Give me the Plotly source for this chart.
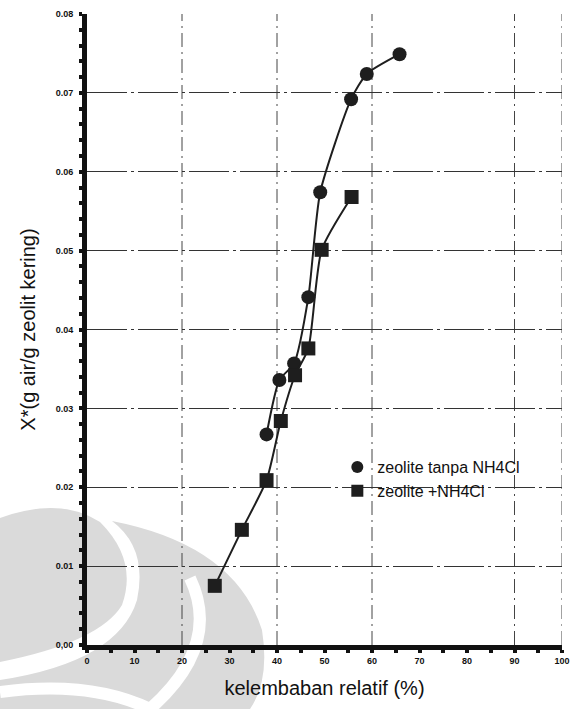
import plotly.graph_objects as go

# Data
rh_circle = [37.8, 40.5, 43.6, 46.6, 49.1, 55.6, 58.9, 65.8]
x_circle = [0.0267, 0.0336, 0.0357, 0.0441, 0.0574, 0.0692, 0.0724, 0.0749]
rh_square = [26.9, 32.6, 37.8, 40.8, 43.8, 46.6, 49.4, 55.7]
x_square = [0.0075, 0.0146, 0.0209, 0.0284, 0.0342, 0.0376, 0.0501, 0.0568]
x_ticks = [0, 10, 20, 30, 40, 50, 60, 70, 80, 90, 100]
y_ticks = [0.00, 0.01, 0.02, 0.03, 0.04, 0.05, 0.06, 0.07, 0.08]
y_tick_text = ["0,00", "0.01", "0.02", "0.03", "0.04", "0.05", "0.06", "0.07", "0.08"]
v_grid = [20, 40, 60, 90, 100]
name_circle = "zeolite tanpa NH4Cl"
name_square = "zeolite +NH4Cl"

INK = "#1e1e1e"
L, R, T, B = 87, 14, 14, 64
W, H = 576, 709
PW, PH = W - L - R, H - T - B


def P(px, py):
    xp, yp = (px - L) / PW, (H - B - py) / PH
    return f"{xp:.4f},{yp:.4f}"


fig = go.Figure()

# decorative watermark swooshes in the background
grayA = f"M{P(0,518)} Q{P(60,496)} {P(100,522)} Q{P(138,560)} {P(122,605)} Q{P(100,642)} {P(0,662)} Z"
grayB = (f"M{P(112,521)} Q{P(235,545)} {P(262,630)} Q{P(270,680)} {P(250,709)} L{P(0,709)} L{P(0,680)} "
         f"Q{P(118,662)} {P(137,600)} Q{P(148,548)} {P(112,521)} Z")
white1 = f"M{P(190,578)} Q{P(222,645)} {P(150,709)}"
white2 = f"M{P(0,692)} Q{P(90,680)} {P(150,709)}"
for pth in (grayA, grayB):
    fig.add_shape(type="path", path=pth, xref="paper", yref="paper",
                  fillcolor="#dadada", line=dict(width=0), layer="below")
for pth in (white1, white2):
    fig.add_shape(type="path", path=pth, xref="paper", yref="paper",
                  line=dict(color="white", width=12), layer="below")

for xv in v_grid:
    fig.add_shape(type="line", x0=xv, x1=xv, y0=0, y1=0.08, xref="x", yref="y",
                  line=dict(color="#444", width=1, dash="14px,5px,2px,5px"), layer="below")

fig.add_trace(go.Scatter(x=rh_circle, y=x_circle, mode="lines+markers",
                         line=dict(color=INK, width=2, shape="spline", smoothing=0.6),
                         marker=dict(symbol="circle", size=14, color=INK),
                         showlegend=False))
fig.add_trace(go.Scatter(x=rh_square, y=x_square, mode="lines+markers",
                         line=dict(color=INK, width=2, shape="spline", smoothing=0.6),
                         marker=dict(symbol="square", size=14, color=INK),
                         showlegend=False))
fig.add_trace(go.Scatter(x=[None], y=[None], mode="markers", name=name_circle,
                         marker=dict(symbol="circle", size=13, color=INK)))
fig.add_trace(go.Scatter(x=[None], y=[None], mode="markers", name=name_square,
                         marker=dict(symbol="square", size=13, color=INK)))

tickfont = dict(family="Liberation Sans, Arial", size=9, color="#111", weight="bold")
titlefont = dict(family="Liberation Sans, Arial", size=20, color="#111")
fig.update_layout(
    width=W, height=H,
    margin=dict(l=L, r=R, t=T, b=B),
    paper_bgcolor="white", plot_bgcolor="white",
    showlegend=True,
    legend=dict(x=0.527, y=0.309, xanchor="left", yanchor="top",
                bgcolor="rgba(0,0,0,0)", itemsizing="constant",
                font=dict(family="Liberation Sans, Arial", size=16, color="#111"),
                itemwidth=30),
    xaxis=dict(range=[0, 100], tickvals=x_ticks, ticktext=[str(v) for v in x_ticks],
               showgrid=False, zeroline=False, automargin=False,
               showline=True, linewidth=5, linecolor="#111",
               ticks="outside", ticklen=3, tickwidth=4, tickcolor="#111",
               minor=dict(dtick=5, ticks="outside", ticklen=3, tickwidth=4, tickcolor="#111"),
               tickfont=tickfont,
               title=dict(text="kelembaban relatif (%)", standoff=18, font=titlefont)),
    yaxis=dict(range=[0, 0.08], tickvals=y_ticks, ticktext=y_tick_text,
               showgrid=True, gridcolor="#333", gridwidth=1, griddash="40px,4px,3px,4px",
               zeroline=False, automargin=False,
               showline=True, linewidth=5, linecolor="#111",
               ticks="outside", ticklen=3, tickwidth=4, tickcolor="#111",
               minor=dict(dtick=0.002, ticks="outside", ticklen=3, tickwidth=4, tickcolor="#111"),
               tickfont=tickfont, ticklabelstandoff=4,
               title=dict(text="X*(g air/g zeolit kering)", standoff=16, font=titlefont)),
)

fig.write_html("out.html", config={"displayModeBar": False},
               post_script="document.body.style.margin='0';")
